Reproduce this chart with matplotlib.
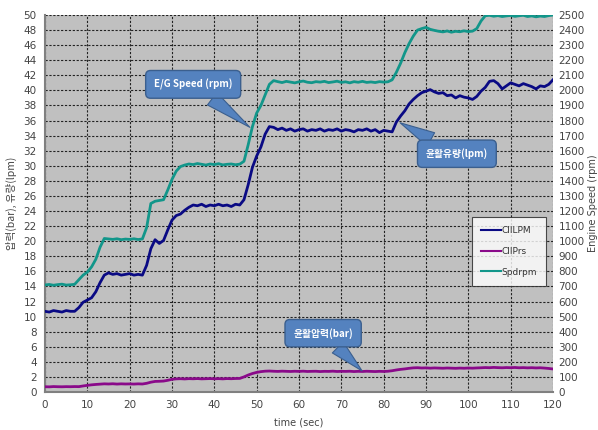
import numpy as np
import matplotlib
matplotlib.use("Agg")
import matplotlib.pyplot as plt

plt.rcParams['font.family'] = ['DejaVu Sans', 'Noto Sans CJK KR']

# time axis (sec)
t = list(range(0, 121))

# lube oil flow (lpm)
ciilpm = [10.7, 10.6, 10.8, 10.7, 10.6, 10.8, 10.7, 10.7, 11.2, 11.9,
          12.2, 12.5, 13.3, 14.5, 15.5, 15.8, 15.6, 15.7, 15.5, 15.6,
          15.7, 15.5, 15.6, 15.5, 16.8, 19.0, 20.2, 19.7, 20.1, 21.5,
          22.8, 23.4, 23.6, 24.1, 24.5, 24.8, 24.7, 24.9, 24.6, 24.8,
          24.7, 24.9, 24.7, 24.8, 24.6, 24.9, 24.8, 25.5, 27.5, 29.8,
          31.3, 32.5, 34.2, 35.2, 35.1, 34.8, 35.0, 34.7, 34.9, 34.6,
          34.8, 34.9, 34.6, 34.8, 34.7, 34.9, 34.6, 34.8, 34.7, 34.9,
          34.6, 34.8, 34.7, 34.5, 34.8, 34.7, 34.9, 34.6, 34.8, 34.4,
          34.7, 34.6, 34.5, 35.8, 36.6, 37.3, 38.2, 38.8, 39.3, 39.7,
          39.9, 40.1, 39.8, 39.6, 39.7, 39.3, 39.4, 39.0, 39.3, 39.1,
          39.0, 38.8, 39.2, 39.9, 40.4, 41.2, 41.3, 40.9, 40.2, 40.6,
          41.0, 40.8, 40.6, 40.9, 40.7, 40.5, 40.2, 40.6, 40.5, 40.8,
          41.4]

# lube oil pressure (bar)
ciiprs = [0.70, 0.68, 0.72, 0.70, 0.69, 0.71, 0.70, 0.72, 0.71, 0.80,
          0.88, 0.95, 1.00, 1.04, 1.08, 1.06, 1.09, 1.05, 1.08, 1.06,
          1.07, 1.05, 1.08, 1.06, 1.15, 1.30, 1.40, 1.42, 1.45, 1.55,
          1.68, 1.74, 1.76, 1.73, 1.77, 1.75, 1.78, 1.74, 1.76, 1.78,
          1.75, 1.77, 1.74, 1.78, 1.76, 1.79, 1.80, 2.00, 2.25, 2.45,
          2.60, 2.70, 2.76, 2.78, 2.75, 2.73, 2.76, 2.74, 2.72, 2.75,
          2.73, 2.76, 2.72, 2.74, 2.75, 2.71, 2.74, 2.73, 2.76, 2.72,
          2.74, 2.73, 2.75, 2.71, 2.74, 2.72, 2.75, 2.73, 2.71, 2.74,
          2.72, 2.75, 2.82, 2.92, 3.00, 3.06, 3.14, 3.20, 3.22, 3.18,
          3.20, 3.16, 3.19, 3.17, 3.15, 3.18, 3.16, 3.14, 3.17, 3.15,
          3.18, 3.16, 3.19, 3.21, 3.24, 3.22, 3.26, 3.23, 3.21, 3.24,
          3.22, 3.25, 3.21, 3.23, 3.20, 3.22, 3.19, 3.21, 3.17, 3.12,
          3.05]

# engine speed (rpm)
spdrpm = [710, 713, 708, 712, 715, 709, 711, 714, 745, 775,
          795, 830, 880, 960, 1018, 1015, 1012, 1016, 1010, 1014,
          1012, 1016, 1011, 1015, 1090, 1250, 1265, 1270, 1275, 1340,
          1410, 1465, 1495, 1505, 1512, 1508, 1515, 1510, 1505, 1512,
          1508, 1514, 1506, 1510, 1512, 1507, 1511, 1530, 1640, 1760,
          1850, 1900, 1970, 2040, 2065, 2058, 2052, 2060, 2055, 2050,
          2057, 2062, 2054, 2051, 2058, 2055, 2060, 2052, 2056, 2061,
          2053, 2057, 2050, 2058, 2054, 2060, 2053, 2056, 2052, 2058,
          2055, 2057, 2070, 2120, 2180, 2250, 2310, 2360, 2400, 2410,
          2418, 2405, 2398, 2392, 2388, 2394, 2386, 2392, 2389, 2395,
          2390, 2393, 2410, 2460, 2495, 2498, 2492, 2496, 2490, 2494,
          2497, 2491, 2495, 2498, 2490, 2494, 2488, 2493, 2490, 2496,
          2500]

c_lpm = '#0a0a84'
c_prs = '#8a0a8a'
c_spd = '#12968a'
box_fc = '#5482bf'
box_ec = '#3b5f8e'
tick_c = '#444444'

fig = plt.figure(figsize=(5.98, 4.30), dpi=100)
ax = fig.add_axes([0.0753, 0.0884, 0.8494, 0.8767])
ax.set_facecolor('#c0c0c0')
ax2 = ax.twinx()

l1, = ax.plot(t, ciilpm, color=c_lpm, lw=2.0, label='CIILPM', zorder=3)
l2, = ax.plot(t, ciiprs, color=c_prs, lw=2.0, label='CIIPrs', zorder=3)
l3, = ax2.plot(t, spdrpm, color=c_spd, lw=2.0, label='Spdrpm', zorder=3)

ax.set_xlim(0, 120)
ax.set_ylim(0, 50)
ax2.set_ylim(0, 2500)
ax.set_xticks(range(0, 121, 10))
ax.set_yticks(range(0, 51, 2))
ax2.set_yticks(range(0, 2501, 100))

ax.grid(True, color='#222222', linestyle=(0, (2, 1.5)), linewidth=0.8)
ax.set_axisbelow(True)
for a in (ax, ax2):
    a.tick_params(length=0, labelsize=7.5, labelcolor=tick_c, pad=6)
    for s in a.spines.values():
        s.set_visible(False)
ax2.tick_params(pad=4)
ax.spines['left'].set_visible(True)
ax.spines['left'].set_color('#808080')
ax.spines['left'].set_linewidth(1.5)
ax.spines['bottom'].set_visible(True)
ax.spines['bottom'].set_color('#808080')
ax.spines['bottom'].set_linewidth(1.5)

ax.set_xlabel('time (sec)', fontsize=7, color=tick_c, labelpad=5)
ax.set_ylabel('압력(bar), 유량(lpm)', fontsize=7.5, color=tick_c, labelpad=5,
              family=['Noto Sans CJK KR', 'DejaVu Sans'])
ax2.set_ylabel('Engine Speed (rpm)', fontsize=7, color=tick_c, labelpad=2)

leg = ax2.legend(handles=[l1, l2, l3], loc='upper left',
                 bbox_to_anchor=(0.831, 0.476), fontsize=6.5, frameon=True,
                 fancybox=False, edgecolor='#222222', handlelength=2.2,
                 handletextpad=0.1, labelspacing=1.3, borderpad=1.0)
leg.get_frame().set_linewidth(0.8)
for h in leg.get_lines():
    h.set_linewidth(1.5)
for txt in leg.get_texts():
    txt.set_color('#333333')

callouts = [
    ('E/G Speed (rpm)', (35.0, 40.8), (48.4, 35.1)),
    ('윤활유량(lpm)', (97.3, 31.6), (83.9, 35.7)),
    ('윤활압력(bar)', (65.7, 7.8), (74.9, 2.8)),
]
for label, xytext, xy in callouts:
    ax2.annotate(label, xy=xy, xytext=xytext, xycoords=ax.transData,
                 textcoords=ax.transData, ha='center', va='center',
                 fontsize=7, color='white', fontweight='bold',
                 family=['Noto Sans CJK KR', 'DejaVu Sans'],
                 bbox=dict(boxstyle='round,pad=0.85,rounding_size=0.5',
                           fc=box_fc, ec=box_ec, lw=1.0),
                 arrowprops=dict(arrowstyle='wedge,tail_width=1.6,shrink_factor=0.5',
                                 fc=box_fc, ec=box_ec, lw=0.8,
                                 shrinkA=0, shrinkB=0),
                 zorder=5)

fig.savefig('out.png', dpi=100)
